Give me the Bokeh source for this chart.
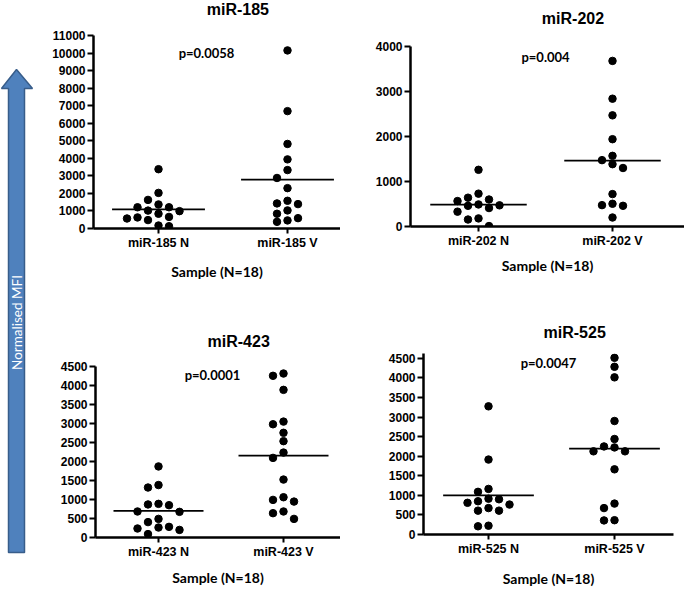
import math
from bokeh.plotting import figure
from bokeh.models import Range1d, FixedTicker, SingleIntervalTicker, Label, ColumnDataSource
from bokeh.layouts import row, column
from bokeh.embed import file_html
from bokeh.resources import INLINE

# ---------------- data ----------------
group_names = ["N", "V"]
titles = ["miR-185", "miR-202", "miR-423", "miR-525"]
p_texts = ["p=0.0058", "p=0.004", "p=0.0001", "p=0.0047"]
y_max = [11000, 4000, 4500, 4500]
y_step = [1000, 1000, 500, 500]
x_axis_title = "Sample (N=18)"
y_axis_title = "Normalised MFI"

mir185_N = [3380, 2030, 1630, 1370, 1210, 1210, 1020, 990, 840, 660, 630, 570, 480, 170, 130]
mir185_V = [10150, 6690, 4820, 3940, 3330, 2880, 2300, 1580, 1430, 1390, 1030, 840, 590, 460, 380]
mir202_N = [1260, 730, 640, 600, 565, 490, 470, 460, 410, 330, 180, 155, 10]
mir202_V = [3680, 2840, 2470, 1940, 1570, 1475, 1385, 1300, 720, 505, 475, 460, 200]
mir423_N = [1870, 1380, 1315, 885, 870, 850, 685, 675, 490, 405, 280, 263, 237, 200, 90]
mir423_V = [4315, 4255, 3885, 3050, 2980, 2755, 2535, 2235, 2095, 1525, 1060, 990, 945, 685, 640, 490]
mir525_N = [3275, 1915, 1165, 1090, 915, 900, 850, 810, 765, 675, 610, 610, 225, 210]
mir525_V = [4515, 4285, 4015, 2900, 2440, 2250, 2225, 2125, 2125, 1665, 790, 675, 365, 360]

series = [(mir185_N, mir185_V), (mir202_N, mir202_V), (mir423_N, mir423_V), (mir525_N, mir525_V)]

# ---------------- layout (page pixels) ----------------
# quadrant box, title strip height, frame left/right, pixel of y=0 and of top tick,
# category centres, title and p-value anchors, axis-label standoff
panels = [
    dict(qx=44, qy=0, qw=296, qh=300, sh=26, fl=93, fr=340, y0=228, yt=35, cats=(158, 287),
         title=(217, 9), pv=(206, 52), ls=10),
    dict(qx=340, qy=0, qw=344, qh=300, sh=32, fl=410, fr=684, y0=226, yt=46, cats=(478, 612),
         title=(544, 18), pv=(545, 56), ls=6),
    dict(qx=44, qy=300, qw=296, qh=289, sh=52, fl=95, fr=340, y0=537, yt=366, cats=(158, 283),
         title=(217, 341), pv=(212, 374), ls=7),
    dict(qx=340, qy=300, qw=344, qh=289, sh=45, fl=423, fr=673, y0=538, yt=358, cats=(488, 614),
         title=(548, 332), pv=(548, 363), ls=11),
]

DOT = 7.5
COL_STEP = 10.5
MEAN_HALF = 0.36
TICK_FONT = "Liberation Sans"
SOFT_FONT = "Lato"


def swarm_columns(vals, ppu, min_sep=8.0):
    order = sorted(range(len(vals)), key=lambda i: -vals[i])
    cands = [0]
    for j in range(1, 15):
        cands += [-j, j]
    placed = []
    ks = [0] * len(vals)
    for i in order:
        ypx = vals[i] * ppu
        for k in cands:
            if all(not (pk == k and abs(py - ypx) < min_sep) for pk, py in placed):
                ks[i] = k
                placed.append((k, ypx))
                break
    return ks


def blank(x0, y0, w, h):
    f = figure(width=w, height=h, x_range=Range1d(x0, x0 + w), y_range=Range1d(y0 + h, y0),
               output_backend="svg", toolbar_location=None, min_border=0)
    f.axis.visible = False
    f.grid.visible = False
    f.outline_line_color = None
    return f


def make_panel(idx):
    g = panels[idx]
    ymax = y_max[idx]
    vals_n, vals_v = series[idx]
    fx, fy, fw = g["qx"], g["qy"] + g["sh"], g["qw"]
    fh = g["qh"] - g["sh"]
    ppu = (g["y0"] - g["yt"]) / ymax
    top_val = max(max(vals_n), max(vals_v))
    extra = max(0, math.ceil((top_val - ymax) * ppu + DOT / 2))
    frame_top = g["yt"] - extra
    y_end = ymax + extra / ppu
    ppx = float(g["cats"][1] - g["cats"][0])
    x_start = 1 - (g["cats"][0] - g["fl"]) / ppx
    x_end = 2 + (g["fr"] - g["cats"][1]) / ppx

    p = figure(width=fw, height=fh,
               x_range=Range1d(x_start, x_end), y_range=Range1d(0, y_end),
               output_backend="svg", toolbar_location=None,
               min_border_left=g["fl"] - fx,
               min_border_right=fx + fw - g["fr"],
               min_border_top=frame_top - fy,
               min_border_bottom=fy + fh - g["y0"])
    p.grid.visible = False
    p.outline_line_color = None

    xs, ys = [], []
    for gi, vals in enumerate((vals_n, vals_v)):
        ks = swarm_columns(vals, ppu)
        for v, k in zip(vals, ks):
            xs.append(gi + 1 + k * COL_STEP / ppx)
            ys.append(v)
    p.scatter(x="x", y="y", source=ColumnDataSource(dict(x=xs, y=ys)),
              size=DOT, color="black")

    means = [sum(vals_n) / len(vals_n), sum(vals_v) / len(vals_v)]
    cx = [1, 2]
    p.segment(x0=[c - MEAN_HALF for c in cx], x1=[c + MEAN_HALF for c in cx],
              y0=means, y1=means, line_color="black", line_width=1.7)

    xa = p.xaxis[0]
    ya = p.yaxis[0]
    xa.ticker = FixedTicker(ticks=[1, 2])
    xa.major_label_overrides = {1: f"{titles[idx]} {group_names[0]}",
                                2: f"{titles[idx]} {group_names[1]}"}
    ya.ticker = SingleIntervalTicker(interval=y_step[idx], num_minor_ticks=0)
    for ax in (xa, ya):
        ax.axis_line_width = 2.5
        ax.axis_line_color = "black"
        ax.major_tick_line_width = 2
        ax.major_tick_line_color = "black"
        ax.major_tick_in = 0
        ax.minor_tick_line_color = None
        ax.major_label_text_font = TICK_FONT
        ax.major_label_text_font_style = "bold"
        ax.major_label_text_color = "black"
    ya.major_tick_out = 6
    ya.major_label_standoff = 2
    ya.major_label_text_font_size = "12px"
    xa.major_tick_out = 5
    xa.major_label_standoff = 2
    xa.major_label_text_font_size = "12.5px"
    xa.axis_label = x_axis_title
    xa.axis_label_text_font = SOFT_FONT
    xa.axis_label_text_font_size = "14px"
    xa.axis_label_text_font_style = "bold"
    xa.axis_label_text_color = "black"
    xa.axis_label_standoff = g["ls"]

    px, py = g["pv"]
    p.add_layout(Label(x=x_start + (px - g["fl"]) / ppx, y=(g["y0"] - py) / ppu,
                       text=p_texts[idx], text_align="center", text_baseline="middle",
                       text_font=SOFT_FONT, text_font_size="13px",
                       text_font_style="bold", text_color="black"))

    strip = blank(g["qx"], g["qy"], g["qw"], g["sh"])
    tx, ty = g["title"]
    strip.add_layout(Label(x=tx, y=ty, text=titles[idx], text_align="center",
                           text_baseline="middle", text_font=TICK_FONT,
                           text_font_size="16px", text_font_style="bold",
                           text_color="black"))
    return column(strip, p)


quads = [make_panel(i) for i in range(4)]

# ---------------- arrow column ----------------
arrow = blank(0, 0, 44, 589)
tip_x, tip_y, head_y, bot_y = 16, 69, 88, 552
head_l, head_r, shaft_l, shaft_r = 1, 32, 8, 24
arrow.patch(x=[tip_x, head_r, shaft_r, shaft_r, shaft_l, shaft_l, head_l],
            y=[tip_y, head_y, head_y, bot_y, bot_y, head_y, head_y],
            fill_color="#4F81BD", line_color="#385D8A", line_width=1.5)
arrow.add_layout(Label(x=tip_x, y=322, text=y_axis_title, angle=math.pi / 2,
                       text_align="center", text_baseline="middle",
                       text_font=SOFT_FONT, text_font_size="13.5px",
                       text_color="white"))

root = row(arrow, column(row(quads[0], quads[1]), row(quads[2], quads[3])))

with open("out.html", "w") as f:
    f.write(file_html(root, INLINE))
